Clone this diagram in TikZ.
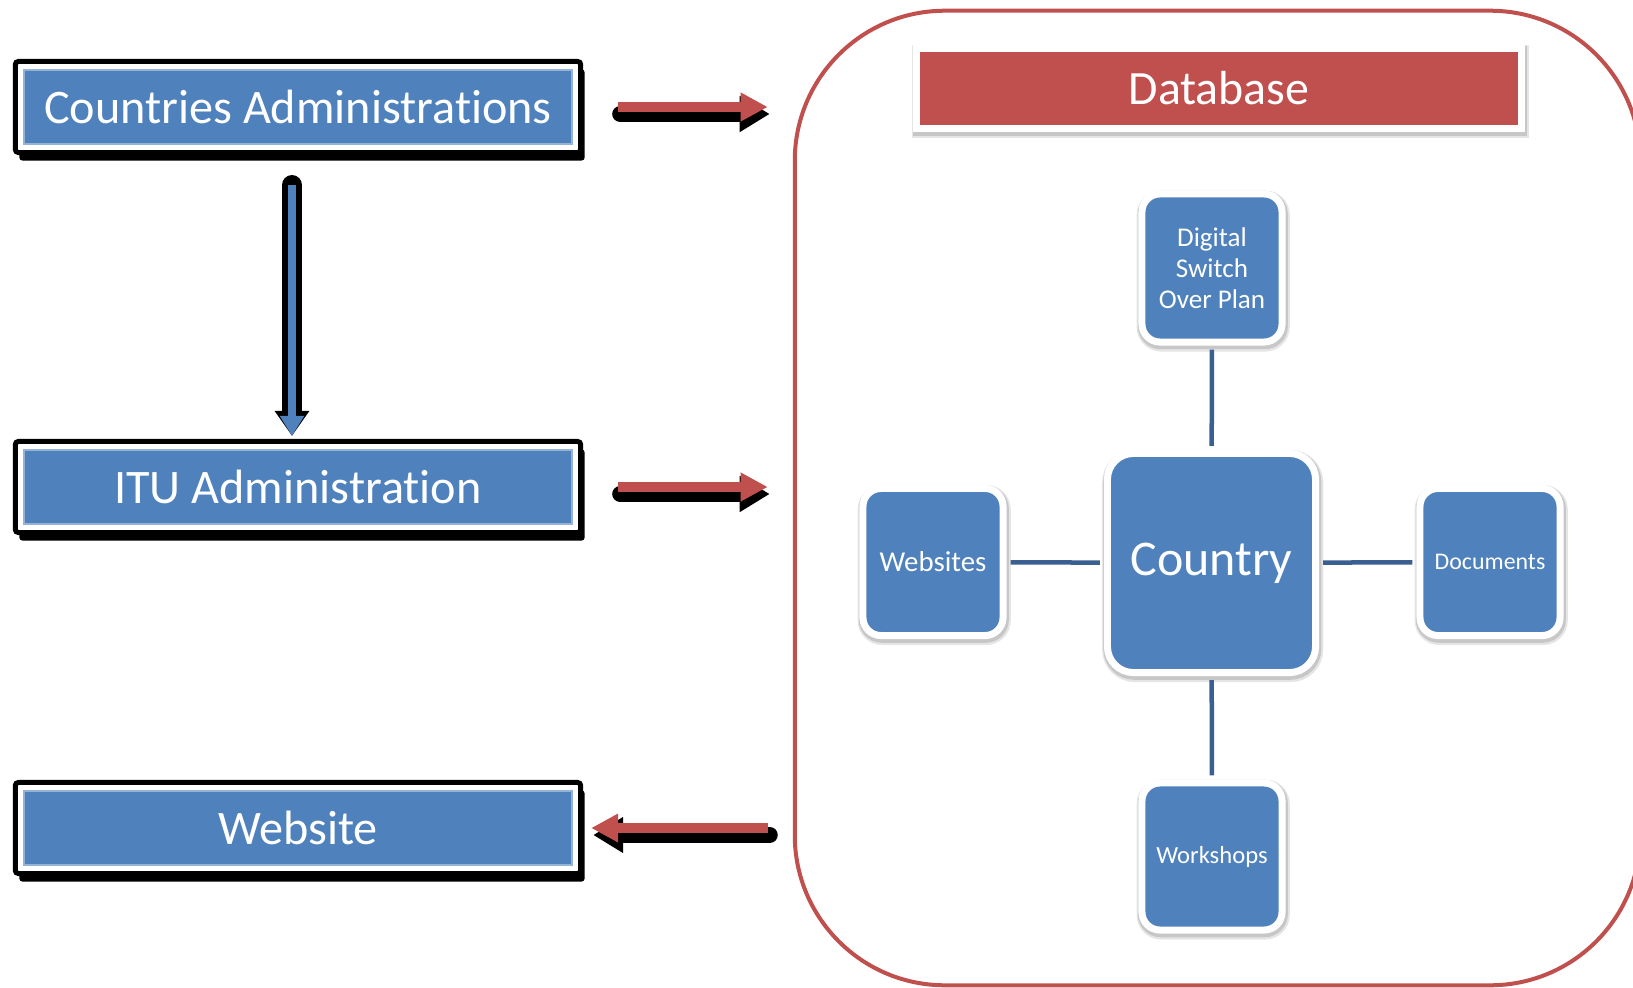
\documentclass[tikz,border=0pt]{standalone}
\usepackage{fontspec}
\setmainfont{Carlito}[Ligatures=NoCommon]
\usetikzlibrary{arrows.meta,shadows}
\definecolor{barblue}{RGB}{79,129,189}
\definecolor{dbred}{RGB}{192,80,77}
\definecolor{linkblue}{RGB}{58,96,145}
\begin{document}
\begin{tikzpicture}[x=0.01cm, y=-0.01cm,
        link/.style={draw=linkblue, line width=0.045cm, shorten <=0.04cm, shorten >=0.04cm},
        halo/.style={preaction={draw=black!10, line width=0.13cm, transform canvas={shift={(0.012cm,-0.03cm)}}},
            preaction={draw=black!22, line width=0.10cm, transform canvas={shift={(0.008cm,-0.022cm)}}}}]
            \tikzstyle{frame}=[fill=white, draw=black, line width=0.05cm, rounded corners=0.03cm, minimum width=5.65cm, minimum height=0.91cm,
                drop shadow={shadow xshift=0.04cm, shadow yshift=-0.08cm, fill=black, opacity=1}]
            \tikzstyle{bar}=[fill=barblue, draw=barblue!60!white, line width=0.4pt, text=white, minimum width=5.48cm, minimum height=0.74cm,
                inner sep=0pt, font=\fontsize{13.7}{16}\selectfont]
            \tikzstyle{card}=[halo, fill=barblue, draw=white, line width=0.07cm, rounded corners=0.18cm, text=white, inner sep=0pt,
                minimum width=1.40cm, minimum height=1.47cm]
            \tikzstyle{feed}=[draw=dbred, line width=0.10cm, -{Triangle[length=0.27cm,width=0.27cm]},
                preaction={draw=black, line width=0.16cm, line cap=round, -{Triangle[length=0.30cm,width=0.34cm]},
                    transform canvas={shift={(0.02cm,-0.07cm)}}}]
            \tikzstyle{down}=[draw=barblue, line width=0.07cm, -{Triangle[length=0.20cm,width=0.23cm]},
                preaction={draw=black, line width=0.20cm, line cap=round, -{Triangle[length=0.25cm,width=0.33cm]}}]
            \useasboundingbox (0,0) rectangle (1633,988);
            \clip (0,0) rectangle (1633,988);
            % Left column
            \node[frame] (caf) at (298,107) {};
            \node[bar] (ca) at (caf) {Countries Administrations};
            \node[frame] (itf) at (298,487) {};
            \node[bar] (itu) at (itf) {ITU Administration};
            \node[frame] (wsf) at (298,828) {};
            \node[bar] (ws) at (wsf) {Website};
            % Database
            \node[draw=dbred, line width=0.04cm, rounded corners=1.5cm, minimum width=8.45cm, minimum height=9.74cm] (db) at (1217.5,498) {};
            \node[halo, fill=dbred, draw=white, line width=0.07cm, text=white, minimum width=6.04cm, minimum height=0.80cm, inner sep=0pt,
                font=\fontsize{13.6}{16}\selectfont] (dbt) at (1219,88.5) {Database};
            \node[card, minimum width=2.08cm, minimum height=2.19cm, rounded corners=0.26cm, font=\fontsize{14.2}{17}\selectfont] (co) at (1211.5,563) {Country};
            \node[card, align=center, minimum height=1.48cm, font=\fontsize{7.7}{8.9}\selectfont] (dso) at (1212,268) {Digital\\Switch\\Over Plan};
            \node[card, font=\fontsize{8.2}{10}\selectfont] (wbs) at (933,562) {Websites};
            \node[card, font=\fontsize{6.8}{8}\selectfont] (doc) at (1490,562) {Documents};
            \node[card, font=\fontsize{7.0}{8}\selectfont] (wsh) at (1212,856.5) {Workshops};
            % Links
            \draw[link] (dso) -- (co);
            \draw[link] (wbs) -- (co);
            \draw[link] (co) -- (doc);
            \draw[link] (co) -- (wsh);
            % Arrows
            \draw[down, shorten <=0.30cm, shorten >=0.03cm] ([xshift=-0.06cm]caf.south) -- ([xshift=-0.06cm]itf.north);
            \draw[feed, shorten <=0.35cm, shorten >=0.25cm] (caf.east) -- (caf.east -| db.west);
            \draw[feed, shorten <=0.35cm, shorten >=0.25cm] (itf.east) -- (itf.east -| db.west);
            \draw[feed, shorten <=0.25cm, shorten >=0.08cm] (wsf.east -| db.west) -- (wsf.east);
\end{tikzpicture}
\end{document}
